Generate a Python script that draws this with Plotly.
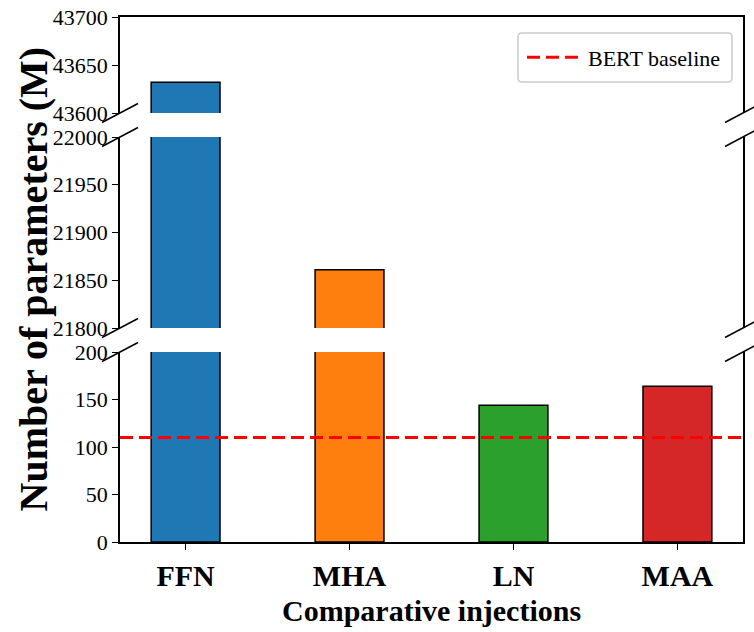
import plotly.graph_objects as go

categories = ["FFN", "MHA", "LN", "MAA"]
params_m = [43632, 21861, 144, 164]
bar_colors = ["#1f77b4", "#ff7f0e", "#2ca02c", "#d62728"]
baseline_value = 110
baseline_name = "BERT baseline"

top_range = [43600, 43700]
top_ticks = [43600, 43650, 43700]
mid_range = [21800, 22000]
mid_ticks = [21800, 21850, 21900, 21950, 22000]
low_range = [0, 200]
low_ticks = [0, 50, 100, 150, 200]

FONT = "Liberation Serif"

# layout geometry (pixels)
W, H = 754, 632
ML, MR, MT, MB = 120, 11, 17, 90
PW, PH = W - ML - MR, H - MT - MB

def py(px):  # pixel y -> paper y
    return (H - MB - px) / PH

def pxp(px):  # pixel x -> paper x
    return (px - ML) / PW

low_dom = [py(542), py(352)]
mid_dom = [py(328), py(137)]
top_dom = [py(113), py(17)]

fig = go.Figure()
for yref, xref in [("y", "x"), ("y2", "x2"), ("y3", "x3")]:
    fig.add_trace(go.Bar(
        x=categories, y=params_m, width=0.42,
        marker=dict(color=bar_colors, line=dict(color="black", width=1.5)),
        xaxis=xref, yaxis=yref, showlegend=False,
    ))

# legend entry for baseline
fig.add_trace(go.Scatter(
    x=[None], y=[None], mode="lines", name=baseline_name,
    line=dict(color="red", width=3, dash="13px,6px"),
))
fig.add_shape(type="line", xref="x domain", yref="y", x0=0, x1=1,
              y0=baseline_value, y1=baseline_value,
              line=dict(color="red", width=3, dash="13px,6px"))

tickfont = dict(family=FONT, size=22, color="black")
common_y = dict(showline=True, linecolor="black", linewidth=1.5, mirror=True,
                ticks="outside", ticklen=6, tickwidth=1.2, tickcolor="black",
                showgrid=False, zeroline=False, tickfont=tickfont,
                tickformat="d", automargin=False)
common_x = dict(range=[-0.4, 3.4], showgrid=False, zeroline=False, automargin=False)

# legend frame (rounded box like the reference)
lx0, lx1, ly0, ly1 = 518, 732, 33, 82
r = 4
path = (f"M {pxp(lx0 + r)},{py(ly0)} L {pxp(lx1 - r)},{py(ly0)} "
        f"Q {pxp(lx1)},{py(ly0)} {pxp(lx1)},{py(ly0 + r)} "
        f"L {pxp(lx1)},{py(ly1 - r)} Q {pxp(lx1)},{py(ly1)} {pxp(lx1 - r)},{py(ly1)} "
        f"L {pxp(lx0 + r)},{py(ly1)} Q {pxp(lx0)},{py(ly1)} {pxp(lx0)},{py(ly1 - r)} "
        f"L {pxp(lx0)},{py(ly0 + r)} Q {pxp(lx0)},{py(ly0)} {pxp(lx0 + r)},{py(ly0)} Z")
fig.add_shape(type="path", xref="paper", yref="paper", path=path,
              fillcolor="white", line=dict(color="#cccccc", width=1.5), layer="above")

fig.update_layout(
    width=W, height=H,
    margin=dict(l=ML, r=MR, t=MT, b=MB, autoexpand=False),
    plot_bgcolor="white", paper_bgcolor="white",
    bargap=0.5,
    xaxis=dict(**common_x, anchor="y", showline=True, linecolor="black", linewidth=1.5,
               ticks="outside", ticklen=6, tickwidth=1.2, tickcolor="black",
               tickfont=dict(family=FONT, size=30, color="black", weight="bold")),
    xaxis2=dict(**common_x, anchor="y2", matches="x", showticklabels=False, showline=False),
    xaxis3=dict(**common_x, anchor="y3", matches="x", showticklabels=False,
                showline=True, side="top", linecolor="black", linewidth=1.5),
    yaxis=dict(**common_y, domain=low_dom, range=low_range, tickvals=low_ticks),
    yaxis2=dict(**common_y, domain=mid_dom, range=mid_range, tickvals=mid_ticks),
    yaxis3=dict(**common_y, domain=top_dom, range=top_range, tickvals=top_ticks),
    legend=dict(x=pxp(lx0 + 4), y=py((ly0 + ly1) / 2), xanchor="left", yanchor="middle",
                font=dict(family=FONT, size=22, color="black"),
                itemwidth=56, borderwidth=0, bgcolor="rgba(0,0,0,0)"),
    showlegend=True,
)

# axis titles
fig.add_annotation(text="<b>Number of parameters (M)</b>", xref="paper", yref="paper",
                   x=pxp(33), y=0.5, textangle=-90, showarrow=False,
                   xanchor="center", yanchor="middle",
                   font=dict(family=FONT, size=40, color="black"))
fig.add_annotation(text="<b>Comparative injections</b>", xref="paper", yref="paper",
                   x=0.5, y=py(610), showarrow=False, xanchor="center", yanchor="middle",
                   font=dict(family=FONT, size=30, color="black"))

# break marks
dx = 18 / PW
dy = 9.5 / PH
for ycen in [top_dom[0], mid_dom[1], mid_dom[0], low_dom[1]]:
    for xcen in [0, 1]:
        fig.add_shape(type="line", xref="paper", yref="paper",
                      x0=xcen - dx, x1=xcen + dx, y0=ycen - dy, y1=ycen + dy,
                      line=dict(color="black", width=1.5))

fig.write_html("out.html", config={"displayModeBar": False},
               post_script="document.body.style.margin='0px';")
